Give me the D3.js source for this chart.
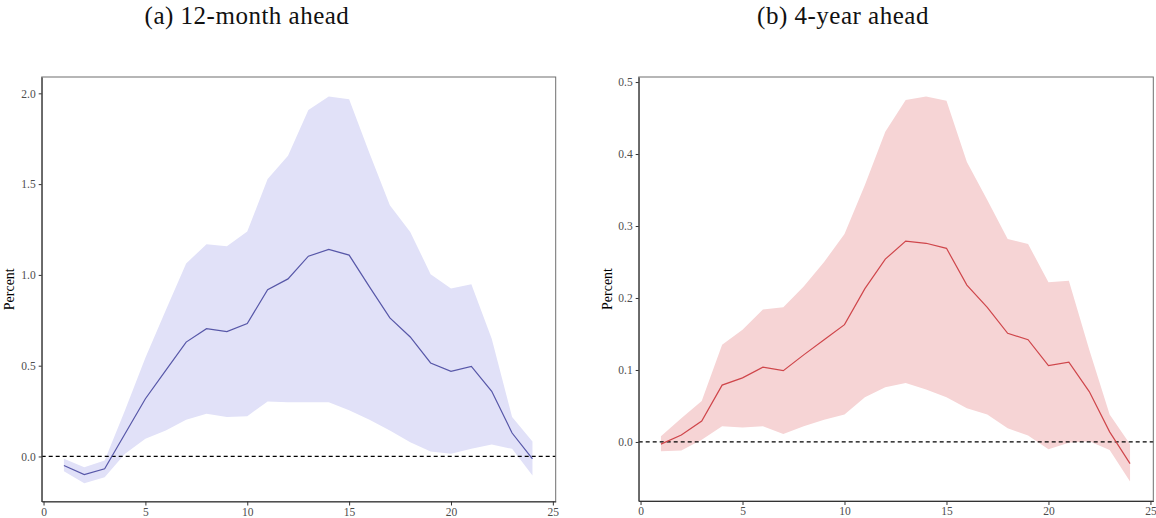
<!DOCTYPE html>
<html lang="en">
<head>
<meta charset="utf-8">
<title>Impulse responses</title>
<script src="https://cdn.jsdelivr.net/npm/d3@7"></script>
<style>
  body { margin: 0; background: #fff; }
  text { font-family: "Liberation Serif", "Times New Roman", serif; }
</style>
</head>
<body>
<script>
// horizons
var horizon = d3.range(1, 25);

// (a) 12-month ahead
var mean12m = [-0.05, -0.10, -0.068, 0.125, 0.318, 0.474, 0.63, 0.704, 0.688, 0.732, 0.919, 0.978,
               1.103, 1.14, 1.109, 0.934, 0.763, 0.658, 0.515, 0.469, 0.496, 0.359, 0.129, -0.013];
var upper12m = [-0.013, -0.059, -0.022, 0.254, 0.544, 0.805, 1.063, 1.169, 1.158, 1.239, 1.528, 1.656,
                1.908, 1.982, 1.967, 1.67, 1.384, 1.237, 1.004, 0.925, 0.949, 0.649, 0.217, 0.083];
var lower12m = [-0.081, -0.147, -0.114, 0.015, 0.098, 0.143, 0.202, 0.235, 0.217, 0.222, 0.303, 0.298,
                0.298, 0.298, 0.254, 0.202, 0.143, 0.079, 0.028, 0.015, 0.042, 0.066, 0.042, -0.105];

// (b) 4-year ahead
var mean4y = [-0.003, 0.0097, 0.029, 0.079, 0.089, 0.104, 0.099, 0.121, 0.142, 0.163, 0.213, 0.254,
              0.279, 0.276, 0.269, 0.218, 0.187, 0.151, 0.142, 0.106, 0.111, 0.070, 0.014, -0.030];
var upper4y = [0.008, 0.033, 0.057, 0.135, 0.156, 0.184, 0.187, 0.216, 0.250, 0.289, 0.357, 0.431,
               0.475, 0.480, 0.474, 0.389, 0.336, 0.282, 0.275, 0.222, 0.224, 0.128, 0.038, -0.003];
var lower4y = [-0.013, -0.012, 0.003, 0.022, 0.020, 0.022, 0.011, 0.022, 0.031, 0.038, 0.062, 0.076,
               0.082, 0.073, 0.062, 0.047, 0.038, 0.019, 0.009, -0.010, -0.001, 0.001, -0.011, -0.055];

var xTicks = [0, 5, 10, 15, 20, 25];
var yTicks12m = [0.0, 0.5, 1.0, 1.5, 2.0];
var yTicks4y = [0.0, 0.1, 0.2, 0.3, 0.4, 0.5];

var w = 1156, h = 518;

var svg = d3.select("body").append("svg")
  .attr("width", w)
  .attr("height", h);

//Draw one panel
function drawPanel(opt) {
  var g = svg.append("g");

  var xScale = d3.scaleLinear().domain([-0.09, 25.14]).range([opt.left, opt.right]);
  var yScale = d3.scaleLinear().domain(opt.yDomain).range([opt.bottom, opt.top]);

  var rows = horizon.map(function(t, i) {
    return { t: t, m: opt.mean[i], lo: opt.lower[i], hi: opt.upper[i] };
  });

  //confidence band
  var area = d3.area()
    .x(function(d) { return xScale(d.t); })
    .y0(function(d) { return yScale(d.lo); })
    .y1(function(d) { return yScale(d.hi); });

  g.append("path")
    .datum(rows)
    .attr("fill", opt.fill)
    .attr("d", area);

  //zero line
  g.append("line")
    .attr("x1", opt.left).attr("x2", opt.right)
    .attr("y1", yScale(0)).attr("y2", yScale(0))
    .attr("stroke", "#000")
    .attr("stroke-width", 1.2)
    .attr("stroke-dasharray", "4,3");

  //point estimate
  var line = d3.line()
    .x(function(d) { return xScale(d.t); })
    .y(function(d) { return yScale(d.m); });

  g.append("path")
    .datum(rows)
    .attr("fill", "none")
    .attr("stroke", opt.stroke)
    .attr("stroke-width", 1.2)
    .attr("d", line);

  //panel border
  g.append("rect")
    .attr("x", opt.left).attr("y", opt.top)
    .attr("width", opt.right - opt.left)
    .attr("height", opt.bottom - opt.top)
    .attr("fill", "none")
    .attr("stroke", "#6e6e6e")
    .attr("stroke-width", 1);

  //axes
  var xAxis = d3.axisBottom(xScale).tickValues(xTicks).tickSizeInner(4).tickSizeOuter(0)
    .tickPadding(2).tickFormat(d3.format("d"));
  var yAxis = d3.axisLeft(yScale).tickValues(opt.yTicks).tickSizeInner(3).tickSizeOuter(0)
    .tickPadding(3).tickFormat(d3.format(".1f"));

  var gx = g.append("g")
    .attr("transform", "translate(0," + opt.bottom + ")")
    .call(xAxis);
  var gy = g.append("g")
    .attr("transform", "translate(" + opt.left + ",0)")
    .call(yAxis);

  [gx, gy].forEach(function(a) {
    a.attr("font-family", "'Liberation Serif', serif").attr("font-size", 11.5);
    a.select(".domain").attr("stroke", "#333");
    a.selectAll(".tick line").attr("stroke", "#333");
    a.selectAll(".tick text")
      .attr("fill", "#4d4d4d")
      .style("font-size", "11.5px");
  });

  //y label
  g.append("text")
    .attr("transform", "translate(" + opt.labelX + "," + ((opt.top + opt.bottom) / 2) + ") rotate(-90)")
    .attr("text-anchor", "middle")
    .style("font-size", "14px")
    .attr("fill", "#000")
    .text("Percent");

  //title
  g.append("text")
    .attr("x", opt.titleX)
    .attr("y", 24)
    .attr("text-anchor", "middle")
    .style("font-size", "25px")
    .style("letter-spacing", "0.5px")
    .attr("fill", "#111")
    .text(opt.title);
}

drawPanel({
  title: "(a) 12-month ahead", titleX: 247,
  left: 41.7, right: 555.7, top: 77, bottom: 501.5,
  yDomain: [-0.248, 2.09], yTicks: yTicks12m, labelX: 14,
  mean: mean12m, upper: upper12m, lower: lower12m,
  fill: "#e1e1f8", stroke: "#5757a8"
});

drawPanel({
  title: "(b) 4-year ahead", titleX: 843,
  left: 638.7, right: 1153.3, top: 77, bottom: 501,
  yDomain: [-0.082, 0.507], yTicks: yTicks4y, labelX: 611.5,
  mean: mean4y, upper: upper4y, lower: lower4y,
  fill: "#f6d4d5", stroke: "#cf464b"
});
</script>
</body>
</html>
